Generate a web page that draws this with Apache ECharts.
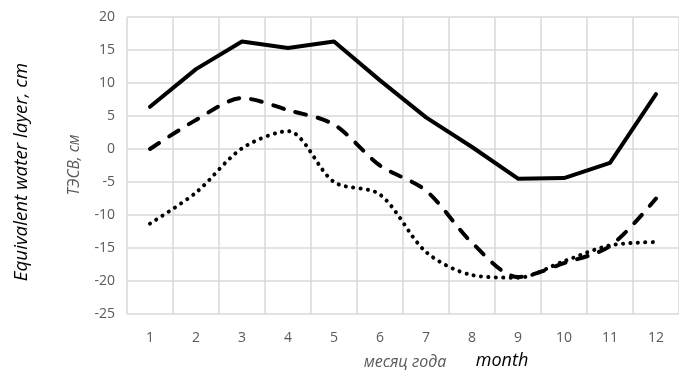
<!DOCTYPE html>
<html>
<head>
<meta charset="utf-8">
<script src="https://cdn.jsdelivr.net/npm/echarts@6/dist/echarts.min.js"></script>
<style>
  html, body { margin: 0; padding: 0; background: #fff; }
  #chart { width: 679px; height: 370px; }
</style>
</head>
<body>
<div id="chart"></div>
<script>
const months = ['1','2','3','4','5','6','7','8','9','10','11','12'];
const solidLine = [6.4, 12.1, 16.3, 15.3, 16.3, 10.4, 4.8, 0.3, -4.5, -4.4, -2.1, 8.3];
const dashedLine = [0, 4.4, 7.7, 5.9, 3.7, -2.5, -6.3, -14.2, -19.4, -17.3, -14.7, -7.5];
const dottedLine = [-11.3, -6.6, 0.1, 2.7, -5, -6.9, -15.6, -19.1, -19.5, -17, -14.6, -14.1];
const yMin = -25, yMax = 20, yStep = 5;

const labelColor = '#595959';
const gridColor = '#d9d9d9';
const font = '"Open Sans", "Noto Sans", sans-serif';

const chart = echarts.init(document.getElementById('chart'));

function lineSeries(name, data, dash, smooth) {
  return {
    name: name,
    type: 'line',
    data: data,
    smooth: smooth,
    symbol: 'none',
    lineStyle: { color: '#000', width: 4, type: dash, cap: 'round', join: 'round' },
    z: 3
  };
}

const option = {
  animation: false,
  backgroundColor: '#fff',
  grid: { left: 127, top: 17, width: 555, height: 297, containLabel: false },
  xAxis: {
    type: 'category',
    data: months,
    boundaryGap: true,
    axisLine: { show: false },
    axisTick: { show: false },
    axisLabel: { color: labelColor, fontSize: 14, fontFamily: font, margin: 17 },
    splitLine: { show: true, interval: 0, lineStyle: { color: gridColor, width: 1.5 } }
  },
  yAxis: {
    type: 'value',
    min: yMin,
    max: yMax,
    interval: yStep,
    axisLine: { show: false },
    axisTick: { show: false },
    axisLabel: { color: labelColor, fontSize: 14, fontFamily: font, margin: 12 },
    splitLine: { show: true, lineStyle: { color: gridColor, width: 1.5 } }
  },
  graphic: [
    {
      type: 'text', x: 22, y: 172, rotation: Math.PI / 2,
      style: { text: 'Equivalent water layer, cm', font: 'italic 18.8px ' + font, fill: '#000', align: 'center', verticalAlign: 'middle' }
    },
    {
      type: 'text', x: 75, y: 165, rotation: Math.PI / 2,
      style: { text: 'ТЭСВ, см', font: 'italic 15.5px ' + font, fill: labelColor, align: 'center', verticalAlign: 'middle' }
    },
    {
      type: 'text', x: 405, y: 362,
      style: { text: 'месяц года', font: 'italic 16px ' + font, fill: labelColor, align: 'center', verticalAlign: 'middle' }
    },
    {
      type: 'text', x: 502, y: 361,
      style: { text: 'month', font: 'italic 18px ' + font, fill: '#000', align: 'center', verticalAlign: 'middle' }
    }
  ],
  series: [
    lineSeries('solid', solidLine, 'solid', false),
    lineSeries('dashed', dashedLine, [11, 12], 0.3),
    lineSeries('dotted', dottedLine, [0.1, 7.3], 0.3)
  ]
};

chart.setOption(option);
</script>
</body>
</html>
